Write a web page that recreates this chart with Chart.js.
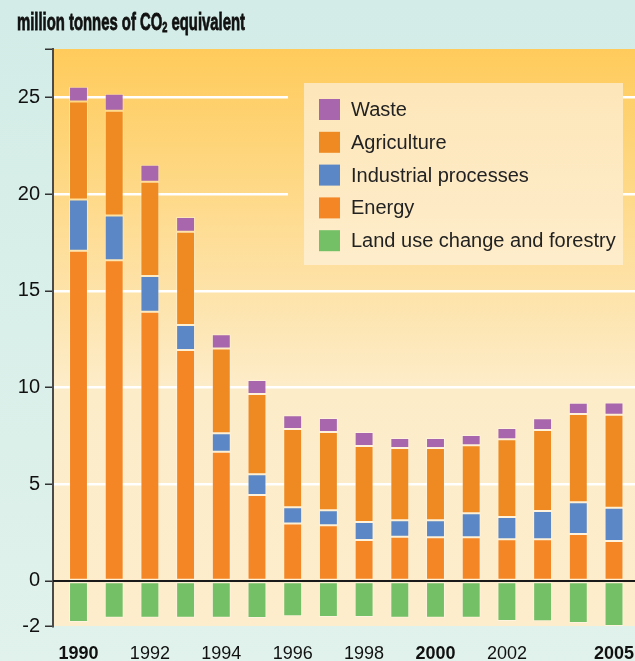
<!DOCTYPE html>
<html>
<head>
<meta charset="utf-8">
<script src="https://cdn.jsdelivr.net/npm/chart.js@4.4.1/dist/chart.umd.min.js"></script>
<style>
    html, body { margin: 0; padding: 0; }
    body { width: 635px; height: 661px; background: linear-gradient(#d3ece7, #e0f2eb); overflow: hidden; }
    #wrap { position: relative; width: 635px; height: 661px; }
</style>
</head>
<body>
<div id="wrap"><canvas id="chart" width="635" height="661"></canvas></div>
<script>
// Data (million tonnes CO2 eq.)
const years = [1990, 1991, 1992, 1993, 1994, 1995, 1996, 1997, 1998, 1999, 2000, 2001, 2002, 2003, 2004, 2005];
const energy = [17.07, 16.58, 13.92, 11.94, 6.68, 4.44, 2.97, 2.88, 2.12, 2.28, 2.26, 2.26, 2.16, 2.16, 2.43, 2.07];
const industrial = [2.65, 2.31, 1.85, 1.29, 0.96, 1.08, 0.84, 0.78, 0.93, 0.86, 0.88, 1.24, 1.15, 1.45, 1.64, 1.71];
const agriculture = [5.06, 5.42, 4.87, 4.82, 4.37, 4.14, 4.04, 4.04, 3.92, 3.73, 3.73, 3.51, 4.01, 4.19, 4.56, 4.81];
const waste = [0.77, 0.88, 0.88, 0.77, 0.74, 0.73, 0.71, 0.72, 0.73, 0.52, 0.52, 0.53, 0.58, 0.61, 0.58, 0.64];
const landUse = [-2.12, -1.90, -1.90, -1.90, -1.90, -1.91, -1.83, -1.86, -1.86, -1.90, -1.90, -1.90, -2.07, -2.09, -2.17, -2.33];

const yearTicks = [1990, 1992, 1994, 1996, 1998, 2000, 2002, 2005];
const boldYears = [1990, 2000, 2005];
const valueTicks = [0, 5, 10, 15, 20, 25];
const yMin = -2.33;
const yMax = 27.5;

const legendOrder = ['Waste', 'Agriculture', 'Industrial processes', 'Energy', 'Land use change and forestry'];

Chart.defaults.font.family = '"Liberation Sans", Arial, sans-serif';

function series(values) {
    return values.map((v, i) => ({ x: years[i], y: v }));
}

function bgGradient(ctx, area) {
    const g = ctx.createLinearGradient(0, area.top, 0, area.bottom);
    g.addColorStop(0, '#ffcb5b');
    g.addColorStop(0.25, '#fed988');
    g.addColorStop(0.58, '#fdecc8');
    g.addColorStop(1, '#fdedcc');
    return g;
}

// Plot background, extends to canvas right edge
const plotBackground = {
    id: 'plotBackground',
    beforeDraw(chart) {
        const { ctx, chartArea } = chart;
        ctx.save();
        ctx.fillStyle = bgGradient(ctx, chartArea);
        ctx.fillRect(chartArea.left, chartArea.top, chart.width - chartArea.left, chartArea.bottom - chartArea.top);
        ctx.restore();
    }
};

// Title with subscript, squeezed to the condensed width of the original
const titlePlugin = {
    id: 'titlePlugin',
    afterDraw(chart) {
        const ctx = chart.ctx;
        const big = 'bold 24px "Liberation Sans Narrow", "Liberation Sans", Arial, sans-serif';
        const small = 'bold 15px "Liberation Sans Narrow", "Liberation Sans", Arial, sans-serif';
        const parts = [['million tonnes of CO', big, 0], ['2', small, 2], [' equivalent', big, 0]];
        let total = 0;
        parts.forEach(p => { ctx.font = p[1]; total += ctx.measureText(p[0]).width; });
        const targetWidth = 228;
        ctx.save();
        ctx.translate(17, 30);
        ctx.scale(targetWidth / total, 1);
        ctx.fillStyle = '#111';
        ctx.strokeStyle = '#111';
        ctx.lineWidth = 0.8;
        ctx.textBaseline = 'alphabetic';
        let x = 0;
        parts.forEach(p => {
            ctx.font = p[1];
            ctx.fillText(p[0], x, p[2]);
            ctx.strokeText(p[0], x, p[2]);
            x += ctx.measureText(p[0]).width;
        });
        ctx.restore();
    }
};

// Legend box inside plot
const boxLegend = {
    id: 'boxLegend',
    beforeDatasetsDraw(chart) {
        const { ctx, chartArea } = chart;
        const left = 304, top = 83, right = 623, bottom = 265;
        ctx.save();
        // gap around the box cuts gridlines
        ctx.fillStyle = bgGradient(ctx, chartArea);
        ctx.fillRect(left - 16, top, right - left + 16, bottom - top);
        const g = ctx.createLinearGradient(0, top, 0, bottom);
        g.addColorStop(0, '#fde6b9');
        g.addColorStop(1, '#feedcb');
        ctx.fillStyle = g;
        ctx.fillRect(left, top, right - left, bottom - top);
        ctx.font = '20px "Liberation Sans", Arial, sans-serif';
        ctx.textBaseline = 'middle';
        legendOrder.forEach((name, i) => {
            const ds = chart.data.datasets.find(d => d.label === name);
            const cy = 109.5 + i * 32.8;
            ctx.fillStyle = ds.backgroundColor;
            ctx.fillRect(319, cy - 10.5, 21, 21);
            ctx.fillStyle = '#222';
            ctx.fillText(name, 351, cy + 1);
        });
        ctx.restore();
    }
};

// Zero line over the bars
const zeroLine = {
    id: 'zeroLine',
    afterDatasetsDraw(chart) {
        const { ctx, chartArea } = chart;
        const y = chart.scales.y.getPixelForValue(0);
        ctx.save();
        ctx.strokeStyle = '#1a1a1a';
        ctx.lineWidth = 2;
        ctx.beginPath();
        ctx.moveTo(chartArea.left, y);
        ctx.lineTo(chart.width, y);
        ctx.stroke();
        ctx.restore();
    }
};

const barBorder = 'rgba(255,255,255,0.35)';

new Chart(document.getElementById('chart'), {
    type: 'bar',
    data: {
        datasets: [
            { label: 'Energy', data: series(energy), backgroundColor: '#f58626' },
            { label: 'Industrial processes', data: series(industrial), backgroundColor: '#5b87c6' },
            { label: 'Agriculture', data: series(agriculture), backgroundColor: '#ee8a21' },
            { label: 'Waste', data: series(waste), backgroundColor: '#a866ad' },
            { label: 'Land use change and forestry', data: series(landUse), backgroundColor: '#73c067' }
        ].map(ds => Object.assign(ds, {
            borderColor: barBorder,
            borderWidth: 1,
            borderSkipped: false,
            categoryPercentage: 1,
            barPercentage: 0.53
        }))
    },
    options: {
        responsive: false,
        animation: false,
        layout: { padding: { top: 49, right: 0, left: 0, bottom: 0 } },
        plugins: {
            legend: { display: false },
            title: { display: false },
            tooltip: { enabled: false }
        },
        scales: {
            x: {
                type: 'linear',
                stacked: true,
                offset: false,
                min: 1989.286,
                max: 2005.588,
                afterBuildTicks(scale) {
                    scale.ticks = yearTicks.map(v => ({ value: v }));
                },
                afterFit(scale) {
                    scale.height = 35;
                    scale.paddingLeft = 0;
                    scale.paddingRight = 0;
                },
                grid: { display: false, drawTicks: false },
                border: { display: false },
                ticks: {
                    padding: 17,
                    color: '#111',
                    maxRotation: 0,
                    autoSkip: false,
                    callback: v => String(v),
                    font: ctx => ({
                        size: 18,
                        weight: boldYears.includes(ctx.tick && ctx.tick.value) ? 'bold' : 'normal'
                    })
                }
            },
            y: {
                stacked: true,
                min: yMin,
                max: yMax,
                afterBuildTicks(scale) {
                    scale.ticks = [yMin].concat(valueTicks, [yMax]).map(v => ({ value: v }));
                },
                afterFit(scale) { scale.width = 53; },
                border: { display: true, color: '#4a4a4a', width: 2 },
                grid: {
                    color: ctx => {
                        const v = ctx.tick && ctx.tick.value;
                        return (v === 0 || v === yMin || v === yMax) ? 'rgba(0,0,0,0)' : '#ffffff';
                    },
                    lineWidth: 2.5,
                    tickColor: '#333',
                    tickWidth: 1.5,
                    tickLength: 8
                },
                ticks: {
                    padding: 5,
                    color: '#111',
                    font: { size: 20 },
                    callback: v => (v === yMax ? '' : String(Math.round(v)))
                }
            }
        }
    },
    plugins: [plotBackground, boxLegend, zeroLine, titlePlugin]
});
</script>
</body>
</html>
